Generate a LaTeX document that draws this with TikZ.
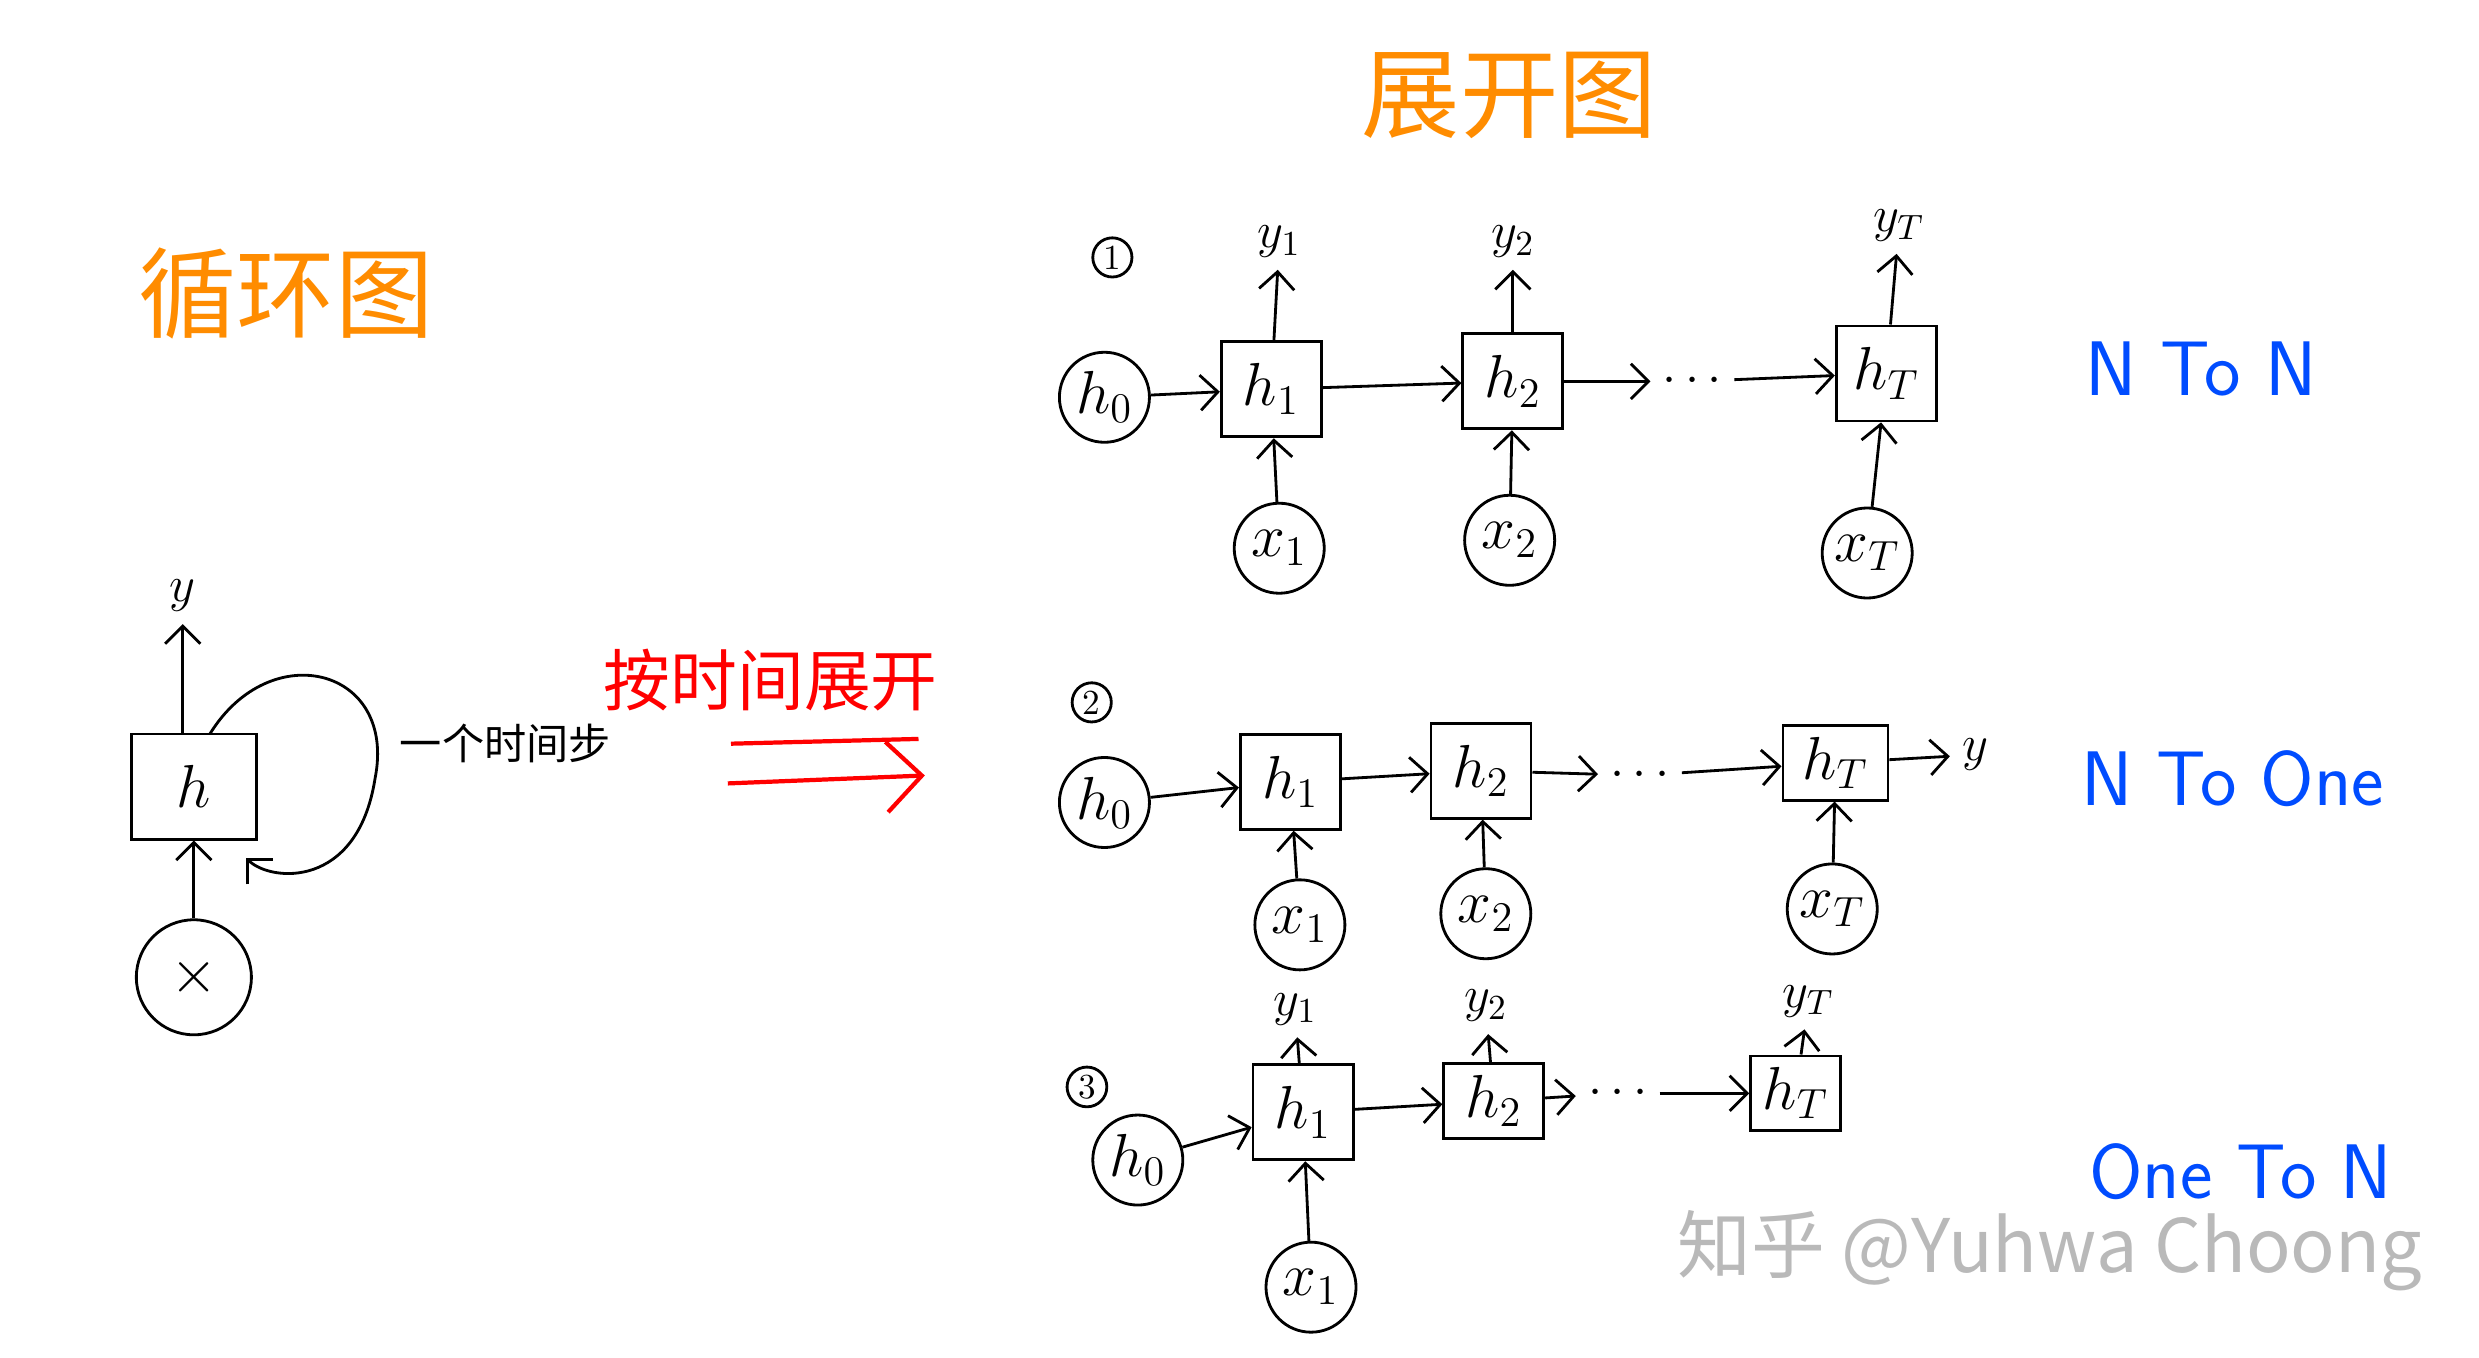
\documentclass[tikz,border=0pt]{standalone}
\usepackage{fontspec}
\newfontfamily\cjk{Noto Sans CJK SC}
\usetikzlibrary{arrows.meta}
\tikzset{
  cell/.style = {draw, thick, minimum width=1cm, minimum height=0.95cm, font=\LARGE},
  inp/.style  = {draw, thick, circle, minimum size=0.9cm, inner sep=0pt, font=\LARGE},
  num/.style  = {draw, thick, circle, inner sep=1pt, font=\normalsize},
  lab/.style  = {font=\Large},
  arr/.style  = {->, thick, >={Straight Barb[length=5pt]}},
  title/.style= {text=orange!90!yellow, font=\cjk\fontsize{28}{28}\selectfont},
  kind/.style = {text=blue!70!cyan, font=\sffamily\fontsize{22}{22}\selectfont}
}
\begin{document}
\begin{tikzpicture}[x=0.01589cm, y=-0.01589cm]
    \useasboundingbox (0,0) rectangle (1560,854);

    % left: folded graph
    \node[title] (tfold) at (180,185) {循环图};
    \node[cell, minimum width=1.25cm, minimum height=1.05cm] (h) at (122,495) {$h$};
    \node[inp, minimum size=1.15cm] (x) at (122,615) {$\times$};
    \node[lab] (y) at (115,375) {$y$};
    \draw[arr] (x) -- (h);
    \draw[arr] (h.north -| 115,0) -- (y);
    \coordinate (loopa) at (132,462);
    \coordinate (loopb) at (155,540);
    \draw[arr] (loopa) .. controls (170,400) and (250,420) .. (236,490)
        .. controls (225,560) and (170,555) .. (loopb);
    \node[font=\cjk\large] (step) at (318,468) {一个时间步};
    \node[font=\cjk\fontsize{19}{19}\selectfont, text=red] (unr) at (485,428) {按时间展开};
    \draw[red, very thick] (460,468) -- (578,465);
    \draw[red, very thick, ->, >={Straight Barb[length=10pt]}] (458,493) -- (582,488);

    % right: unrolled graphs
    \node[title] (tunr) at (950,60) {展开图};

    % row 1: N to N
    \node[num] (n1) at (700,162) {1};
    \node[inp] (a0) at (695,250) {$h_0$};
    \node[cell] (a1) at (800,245) {$h_1$};
    \node[cell] (a2) at (952,240) {$h_2$};
    \node[lab] (ad) at (1065,240) {$\cdots$};
    \node[cell] (aT) at (1187,235) {$h_T$};
    \node[inp] (ax1) at (805,345) {$x_1$};
    \node[inp] (ax2) at (950,340) {$x_2$};
    \node[inp] (axT) at (1175,348) {$x_T$};
    \node[lab] (ay1) at (805,152) {$y_1$};
    \node[lab] (ay2) at (952,152) {$y_2$};
    \node[lab] (ayT) at (1195,142) {$y_T$};
    \draw[arr] (a0) -- (a1);
    \draw[arr] (a1) -- (a2);
    \draw[arr] (a2) -- (ad);
    \draw[arr] (ad) -- (aT);
    \foreach \i in {1,2,T} {
        \draw[arr] (ax\i) -- (a\i);
        \draw[arr] (a\i) -- (ay\i);
    }
    \node[kind] (k1) at (1385,232) {N To N};

    % row 2: N to one
    \node[num] (n2) at (687,442) {2};
    \node[inp] (b0) at (695,505) {$h_0$};
    \node[cell] (b1) at (812,492) {$h_1$};
    \node[cell] (b2) at (932,485) {$h_2$};
    \node[lab] (bd) at (1032,488) {$\cdots$};
    \node[cell, minimum width=1.05cm, minimum height=0.6cm] (bT) at (1155,480) {$h_T$};
    \node[lab] (by) at (1243,475) {$y$};
    \node[inp] (bx1) at (818,582) {$x_1$};
    \node[inp] (bx2) at (935,575) {$x_2$};
    \node[inp] (bxT) at (1153,572) {$x_T$};
    \draw[arr] (b0) -- (b1);
    \draw[arr] (b1) -- (b2);
    \draw[arr] (b2) -- (bd);
    \draw[arr] (bd) -- (bT);
    \draw[arr] (bT) -- (by);
    \foreach \i in {1,2,T}
        \draw[arr] (bx\i) -- (b\i);
    \node[kind] (k2) at (1405,490) {N To One};

    % row 3: one to N
    \node[num] (n3) at (684,684) {3};
    \node[inp] (c0) at (716,730) {$h_0$};
    \node[cell] (c1) at (820,700) {$h_1$};
    \node[cell, minimum height=0.75cm] (c2) at (940,693) {$h_2$};
    \node[lab] (cd) at (1018,688) {$\cdots$};
    \node[cell, minimum width=0.9cm, minimum height=0.65cm] (cT) at (1130,688) {$h_T$};
    \node[inp] (cx1) at (825,810) {$x_1$};
    \node[lab] (cy1) at (815,635) {$y_1$};
    \node[lab] (cy2) at (935,633) {$y_2$};
    \node[lab] (cyT) at (1138,630) {$y_T$};
    \draw[arr] (c0) -- (c1);
    \draw[arr] (c1) -- (c2);
    \draw[arr] (c2) -- (cd);
    \draw[arr] (cd) -- (cT);
    \draw[arr] (cx1) -- (c1);
    \foreach \i in {1,2,T}
        \draw[arr] (c\i) -- (cy\i);
    \node[kind] (k3) at (1410,737) {One To N};

    \node[text=gray!55, font=\cjk\fontsize{21}{21}\selectfont] (wm) at (1290,787) {知乎 @Yuhwa Choong};
\end{tikzpicture}
\end{document}
